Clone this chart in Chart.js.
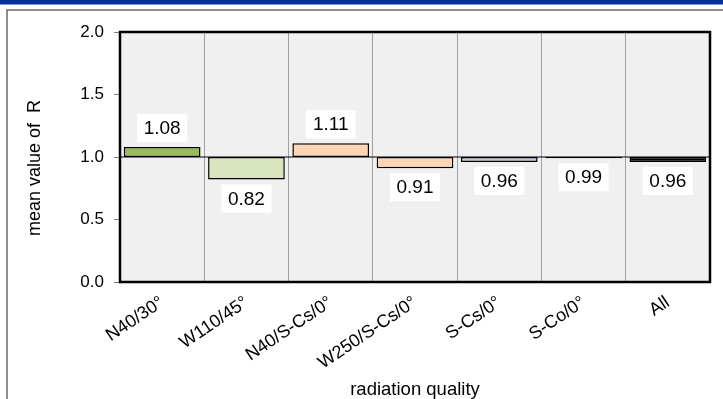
<!DOCTYPE html>
<html lang="en">

<head>
    <meta charset="UTF-8">
    <title>mean value of R</title>
    <style>
        html, body {
            margin: 0;
            padding: 0;
            background: #ffffff;
        }

        #wrap {
            position: relative;
            width: 723px;
            height: 399px;
        }
    </style>
</head>

<body>
    <div id="wrap">
        <canvas id="myChart" width="723" height="399"></canvas>
    </div>

    <script src="https://cdn.jsdelivr.net/npm/chart.js"></script>
    <script>
        // data
        const categories = ['N40/30°', 'W110/45°', 'N40/S-Cs/0°', 'W250/S-Cs/0°', 'S-Cs/0°', 'S-Co/0°', 'All'];
        const meanR = [1.08, 0.82, 1.11, 0.91, 0.96, 0.99, 0.96];
        const baseline = 1.0;
        const yMin = 0, yMax = 2, yStep = 0.5;

        const barColors = ['#9bbb59', '#d7e4bd', '#fcd5b5', '#fcd5b5', '#ccc1da', '#000000', '#000000'];
        const FONT = "'Liberation Sans', Arial, sans-serif";

        // frame, plot background, 1.0 line, border, y title and value boxes
        const decor = {
            id: 'decor',
            beforeDraw(chart) {
                const c = chart.ctx;
                const a = chart.chartArea;
                c.save();
                c.fillStyle = '#003399';
                c.fillRect(0, 0, chart.width, 4.5);
                c.strokeStyle = '#6a6a6a';
                c.lineWidth = 1.5;
                c.beginPath();
                c.moveTo(7, chart.height);
                c.lineTo(7, 10);
                c.lineTo(chart.width, 10);
                c.stroke();
                c.fillStyle = '#f0f0f0';
                c.fillRect(a.left, a.top, a.right - a.left, a.bottom - a.top);

                // y title, sits a bit below the axis middle in the original
                c.translate(35, 168);
                c.rotate(-Math.PI / 2);
                c.fillStyle = '#000';
                c.font = '18px ' + FONT;
                c.textAlign = 'center';
                c.textBaseline = 'middle';
                c.fillText('mean value of  R', 0, 0);
                c.restore();
            },
            beforeDatasetsDraw(chart) {
                const c = chart.ctx;
                const a = chart.chartArea;
                const y = chart.scales.y.getPixelForValue(baseline);
                c.save();
                c.strokeStyle = '#000';
                c.lineWidth = 1;
                c.beginPath();
                c.moveTo(a.left, y);
                c.lineTo(a.right, y);
                c.stroke();
                c.restore();
            },
            afterDatasetsDraw(chart) {
                const c = chart.ctx;
                const a = chart.chartArea;
                const ys = chart.scales.y;
                c.save();
                c.strokeStyle = '#000';
                c.lineWidth = 2.5;
                c.strokeRect(a.left, a.top, a.right - a.left, a.bottom - a.top);

                c.font = '19px ' + FONT;
                c.textAlign = 'center';
                c.textBaseline = 'middle';
                chart.getDatasetMeta(0).data.forEach((bar, i) => {
                    const v = meanR[i];
                    const end = ys.getPixelForValue(v);
                    const cy = v >= baseline ? end - 19 : end + 19;
                    c.fillStyle = '#ffffff';
                    c.fillRect(bar.x - 25, cy - 14, 50, 28);
                    c.fillStyle = '#000';
                    c.fillText(v.toFixed(2), bar.x, cy + 1);
                });
                c.restore();
            }
        };

        const ctx = document.getElementById('myChart').getContext('2d');

        const myChart = new Chart(ctx, {
            type: 'bar',
            data: {
                labels: categories,
                datasets: [{
                    data: meanR.map(v => [baseline, v]),
                    backgroundColor: barColors,
                    borderColor: '#000',
                    borderWidth: 1.5,
                    borderSkipped: false,
                    barPercentage: 0.91,
                    categoryPercentage: 1.0
                }]
            },
            options: {
                responsive: false,
                animation: false,
                layout: {
                    padding: { top: 32, right: 13, bottom: -2, left: 0 }
                },
                plugins: {
                    legend: { display: false },
                    tooltip: { enabled: false }
                },
                scales: {
                    x: {
                        offset: true,
                        afterFit(scale) { scale.height = 119; },
                        grid: { color: '#a0a0a0', lineWidth: 1, drawTicks: false },
                        border: { display: false },
                        ticks: {
                            color: '#000',
                            font: { family: FONT, size: 18 },
                            minRotation: 34,
                            maxRotation: 34,
                            padding: 10,
                            autoSkip: false
                        },
                        title: {
                            display: true,
                            text: 'radiation quality',
                            color: '#000',
                            font: { family: FONT, size: 18.5 },
                            padding: { top: 0, bottom: 0 }
                        }
                    },
                    y: {
                        min: yMin,
                        max: yMax,
                        afterFit(scale) { scale.width = 120; },
                        grid: { drawOnChartArea: false, drawTicks: true, tickLength: 6, color: '#808080' },
                        border: { display: false },
                        ticks: {
                            stepSize: yStep,
                            color: '#000',
                            font: { family: FONT, size: 17 },
                            padding: 10,
                            callback: v => Number(v).toFixed(1)
                        }
                    }
                }
            },
            plugins: [decor]
        });
    </script>
</body>

</html>
